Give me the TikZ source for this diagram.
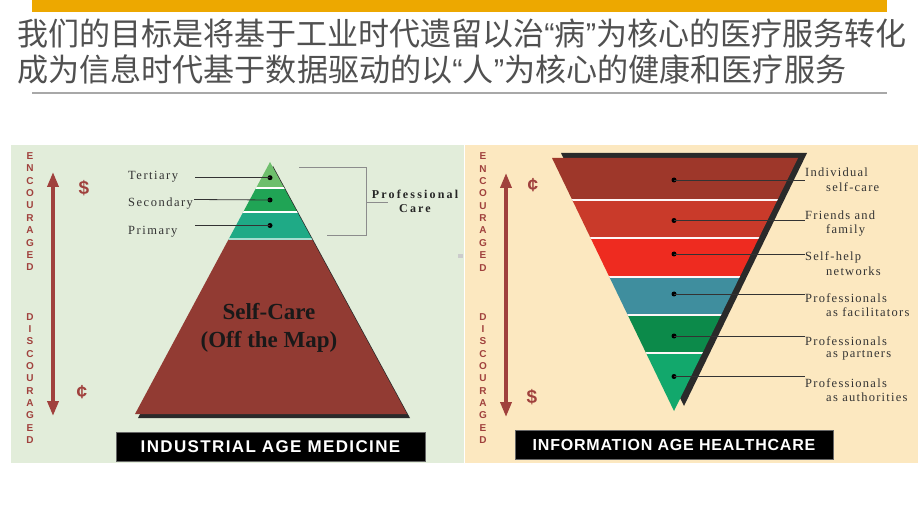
\documentclass[tikz,border=0pt]{standalone}
\usepackage{fontspec}
\usepackage{graphicx}
\setmainfont{Liberation Serif}
\setsansfont{Liberation Sans}
\newfontfamily\cjk{Noto Sans CJK SC}
\newfontfamily\quotefont{Liberation Sans}
\newfontfamily\labfont[LetterSpace=12]{Liberation Serif}
\newfontfamily\rlabfont[LetterSpace=10]{Liberation Serif}
\newfontfamily\profont[LetterSpace=18]{Liberation Serif}
\newfontfamily\banfontA[LetterSpace=8]{Liberation Sans}
\newfontfamily\banfontB[LetterSpace=5]{Liberation Sans}
\newcommand\narrowq[1]{{\quotefont #1}}
\usetikzlibrary{arrows.meta}
\definecolor{goldbar}{HTML}{EDA800}
\definecolor{titlegray}{HTML}{505050}
\definecolor{rulegray}{HTML}{A8A8A8}
\definecolor{panelgreen}{HTML}{E2EDDA}
\definecolor{panelyellow}{HTML}{FCE8C0}
\definecolor{darkred}{HTML}{A0413D}
\definecolor{pyrA}{HTML}{6EBE6C}
\definecolor{pyrB}{HTML}{20A455}
\definecolor{pyrC}{HTML}{1FAA86}
\definecolor{selfcare}{HTML}{923B33}
\definecolor{invA}{HTML}{9E372A}
\definecolor{invB}{HTML}{C93A2A}
\definecolor{invC}{HTML}{EE2B20}
\definecolor{invD}{HTML}{3F8E9E}
\definecolor{invE}{HTML}{0C8A4A}
\definecolor{invF}{HTML}{12A86C}
\definecolor{shadowc}{HTML}{2A2A2A}
\definecolor{bracketgray}{HTML}{8C8C8C}
\begin{document}
\begin{tikzpicture}[x=1pt,y=-1pt,
  titletext/.style={anchor=west,inner sep=0pt,text=titlegray,font=\cjk\fontsize{31.5}{33}\selectfont},
  vword/.style={align=center,inner sep=0pt,text=darkred,font=\sffamily\bfseries\fontsize{10}{12.35}\selectfont},
  money/.style={inner sep=0pt,text=darkred,font=\sffamily\bfseries\fontsize{19}{19}\selectfont},
  updown/.style={draw=darkred,line width=3.5,{Triangle[width=11,length=15]}-{Triangle[width=11,length=15]}},
  lablabel/.style={anchor=west,inner sep=0pt,text=black!80,font=\labfont\fontsize{12.5}{13}\selectfont},
  rlabel/.style={anchor=west,inner sep=0pt,text=black!80,font=\rlabfont\fontsize{12.5}{13}\selectfont},
  leader/.style={draw=black!80,line width=0.8},
  dotmark/.style={circle,fill=black,inner sep=0pt,minimum size=5},
  bigtext/.style={inner sep=0pt,text=black!90,font=\bfseries\fontsize{23}{25}\selectfont},
  protext/.style={inner sep=0pt,text=black!85,font=\profont\bfseries\fontsize{12}{13}\selectfont},
  banner/.style={fill=black,draw=black!60,line width=0.5},
  bantext/.style={inner sep=0pt,text=white}]
\useasboundingbox (0,0) rectangle (920,518);
\fill[white] (0,0) rectangle (920,518);
% header
\fill[goldbar] (32,0) rectangle (887,12);
\node[titletext] (t1) at (17,34) {\resizebox{889pt}{\height}{我们的目标是将基于工业时代遗留以治\narrowq{“}病\narrowq{”}为核心的医疗服务转化}};
\node[titletext] (t2) at (17,69.5) {\resizebox{829pt}{\height}{成为信息时代基于数据驱动的以\narrowq{“}人\narrowq{”}为核心的健康和医疗服务}};
\draw[rulegray,line width=2] (32,93) -- (887,93);
% panels
\fill[panelgreen] (11,145) rectangle (464,463);
\fill[panelyellow] (465,145) rectangle (918,463);
\fill[black!20] (458,254) rectangle (462.5,258.5);
% ===== left panel =====
\node[vword] (lenc) at (30,211.7) {E\\N\\C\\O\\U\\R\\A\\G\\E\\D};
\node[vword] (ldis) at (30,378.5) {D\\I\\S\\C\\O\\U\\R\\A\\G\\E\\D};
\coordinate (lat) at (53,172);
\coordinate (lab) at (53,416);
\draw[updown] (lab) -- (lat);
\node[money] (ldol) at (84,188) {\$};
\node[money] (lcent) at (82,392) {¢};
% pyramid
\coordinate (LA) at (270,162);
\coordinate (LL) at (135,414);
\coordinate (LR) at (407,414);
\fill[shadowc] ([shift={(3,4)}]LA) -- ([shift={(3,4)}]LR) -- ([shift={(3,4)}]LL) -- cycle;
\begin{scope}
\clip (LA) -- (LR) -- (LL) -- cycle;
\fill[pyrA] (120,150) rectangle (420,188);
\fill[pyrB] (120,188) rectangle (420,212);
\fill[pyrC] (120,212) rectangle (420,239);
\fill[selfcare] (120,239) rectangle (420,420);
\draw[white,line width=1.3] (120,188) -- (420,188) (120,212) -- (420,212);
\draw[white!60!pyrC,line width=1.2] (120,239) -- (420,239);
\end{scope}
\node[dotmark] (d1) at (270,177.7) {};
\node[dotmark] (d2) at (270,200) {};
\node[dotmark] (d3) at (270,225.5) {};
\node[lablabel] (tert) at (128,177) {Tertiary};
\node[lablabel] (seco) at (128,204) {Secondary};
\node[lablabel] (prim) at (128,232) {Primary};
\coordinate (s1) at (195,177.7);
\coordinate (s2) at (194,199.5);
\coordinate (s3) at (195,225.5);
\draw[leader] (s1) -- (d1.center);
\draw[leader] (s2) -- (d2.center);
\draw[leader] (s3) -- (d3.center);
% bracket
\coordinate (b1) at (299,167);
\coordinate (b2) at (366,167);
\coordinate (b3) at (366,235);
\coordinate (b4) at (327,235);
\coordinate (bm) at (366,202);
\coordinate (bt) at (388,202);
\draw[bracketgray,line width=0.9] (b1) -- (b2) -- (b3) -- (b4);
\draw[bracketgray,line width=0.9] (bm) -- (bt);
\node[protext] (prof) at (415,194) {Professional};
\node[protext] (care) at (415,208.5) {Care};
\node[bigtext] (sc1) at (269,312) {Self-Care};
\node[bigtext] (sc2) at (269,342) {(Off the Map)};
\draw[banner] (116,432) rectangle (425,461);
\node[bantext,font=\banfontA\bfseries\fontsize{17}{17}\selectfont] (ban1) at (270.5,446.5) {INDUSTRIAL AGE MEDICINE};
% ===== right panel =====
\node[vword] (renc) at (483,212) {E\\N\\C\\O\\U\\R\\A\\G\\E\\D};
\node[vword] (rdis) at (483,378.5) {D\\I\\S\\C\\O\\U\\R\\A\\G\\E\\D};
\coordinate (rat) at (506,173);
\coordinate (rab) at (506,417);
\draw[updown] (rab) -- (rat);
\node[money] (rcent) at (533,185) {¢};
\node[money] (rdol) at (532,397) {\$};
% inverted pyramid
\coordinate (RL) at (552,158);
\coordinate (RR) at (798,158);
\coordinate (RA) at (674,411);
\fill[shadowc] (561,153) -- (807,153) -- (684,406) -- cycle;
\begin{scope}
\clip (RL) -- (RR) -- (RA) -- cycle;
\fill[invA] (540,150) rectangle (810,200);
\fill[invB] (540,200) rectangle (810,238);
\fill[invC] (540,238) rectangle (810,277);
\fill[invD] (540,277) rectangle (810,315);
\fill[invE] (540,315) rectangle (810,353);
\fill[invF] (540,353) rectangle (810,420);
\draw[white!85!pink,line width=1.4] (540,200) -- (810,200) (540,238) -- (810,238) (540,277) -- (810,277) (540,315) -- (810,315) (540,353) -- (810,353);
\end{scope}
\foreach \n/\yy in {1/180,2/220.5,3/254,4/294,5/336,6/376.5}{
  \node[dotmark] (r\n) at (674,\yy) {};
  \coordinate (re\n) at (805,\yy);
  \draw[leader] (r\n.center) -- (re\n);
}
\node[rlabel] (ra1) at (805,172.5) {Individual};
\node[rlabel] (ra2) at (826,187) {self-care};
\node[rlabel] (rb1) at (805,215) {Friends and};
\node[rlabel] (rb2) at (826,230) {family};
\node[rlabel] (rc1) at (805,257) {Self-help};
\node[rlabel] (rc2) at (826,271) {networks};
\node[rlabel] (rd1) at (805,298.5) {Professionals};
\node[rlabel] (rd2) at (826,312.5) {as facilitators};
\node[rlabel] (re1l) at (805,341) {Professionals};
\node[rlabel] (re2l) at (826,355) {as partners};
\node[rlabel] (rf1) at (805,383) {Professionals};
\node[rlabel] (rf2) at (826,397) {as authorities};
\draw[banner] (515,430) rectangle (833,459);
\node[bantext,font=\banfontB\bfseries\fontsize{16}{16}\selectfont] (ban2) at (674,444.5) {INFORMATION AGE HEALTHCARE};
\end{tikzpicture}
\end{document}
